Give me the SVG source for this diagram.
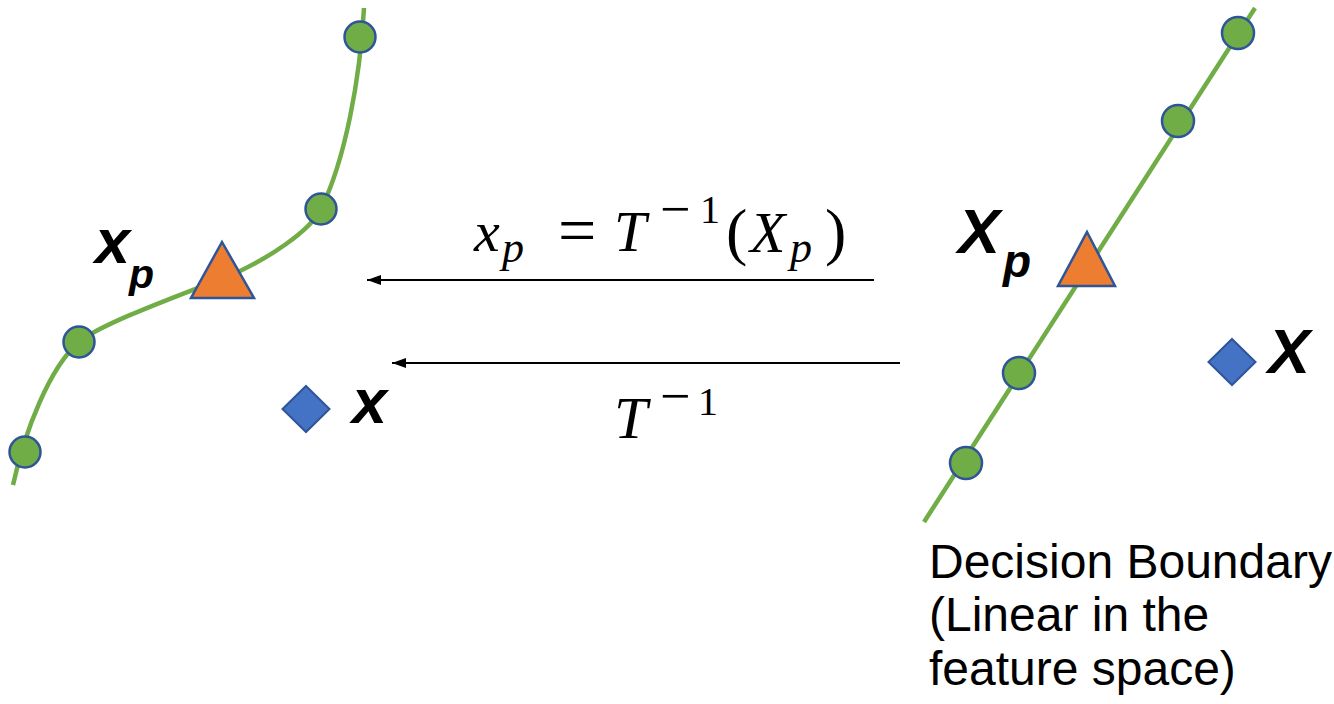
<svg xmlns="http://www.w3.org/2000/svg" width="1334" height="704" viewBox="0 0 1334 704">
  <defs>
    <marker id="arrow" markerUnits="userSpaceOnUse" markerWidth="16" markerHeight="12" refX="14" refY="5" orient="auto">
      <path d="M0,0 L14,5 L0,10 Z" fill="#000"/>
    </marker>
    <style>
      .curve { fill: none; stroke: #70AD47; stroke-width: 4.5; }
      .pt { fill: #70AD47; stroke: #2F5597; stroke-width: 2.5; }
      .tri { fill: #ED7D31; stroke: #2F5597; stroke-width: 2.5; stroke-linejoin: miter; }
      .dia { fill: #4472C4; stroke: #2F5597; stroke-width: 2; }
      .conn { stroke: #000; stroke-width: 2.2; fill: none; }
      .lbl { font-family: "Liberation Sans", Arial, sans-serif; font-weight: bold; font-style: italic; fill: #000; }
      .math { font-family: "Liberation Serif", "Times New Roman", serif; fill: #000; }
      .it { font-style: italic; }
      .note { font-family: "Liberation Sans", Arial, sans-serif; font-size: 48px; fill: #000; }
    </style>
  </defs>

  <g id="input-space">
    <path class="curve" d="M364,8 C360,80 345,160 321,209 C309,233 265,259 240,271 C215,283 105,320 79,342 C50,367 25,430 13,485"/>
    <circle class="pt" cx="360" cy="37" r="15.5"/>
    <circle class="pt" cx="321" cy="209" r="15.5"/>
    <circle class="pt" cx="79" cy="342" r="15.5"/>
    <circle class="pt" cx="25" cy="452" r="15.5"/>
  </g>

  <g id="node-xp">
    <polygon class="tri" points="222,242 254,298 191,298"/>
    <text class="lbl" x="95" y="263" font-size="63">x</text>
    <text class="lbl" x="129" y="288" font-size="41">p</text>
  </g>

  <g id="node-x">
    <polygon class="dia" points="306,386 329.5,409 306,432 282.5,409"/>
    <text class="lbl" x="352" y="423" font-size="63">x</text>
  </g>

  <g id="feature-space">
    <path class="curve" d="M1255,8 L924,522"/>
    <circle class="pt" cx="1238" cy="33" r="16"/>
    <circle class="pt" cx="1178" cy="121" r="16"/>
    <circle class="pt" cx="1019" cy="373" r="16"/>
    <circle class="pt" cx="966" cy="463" r="16"/>
  </g>

  <g id="node-Xp">
    <polygon class="tri" points="1087,232 1115,286 1058,286"/>
    <text class="lbl" x="958" y="253" font-size="63">X</text>
    <text class="lbl" x="1003" y="277" font-size="46">p</text>
  </g>

  <g id="node-X">
    <polygon class="dia" points="1232,339 1255.5,362 1232,385 1208.5,362"/>
    <text class="lbl" x="1268" y="373" font-size="63">X</text>
  </g>

  <g id="connectors">
    <line class="conn" x1="874" y1="280" x2="367" y2="280" marker-end="url(#arrow)"/>
    <line class="conn" x1="900" y1="363" x2="392" y2="363" marker-end="url(#arrow)"/>
  </g>

  <g id="label-top">
    <text class="math" font-size="58">
      <tspan class="it" x="474" y="251">x</tspan><tspan class="it" x="502" y="262" font-size="44">p</tspan><tspan x="558" y="253" font-size="68">=</tspan><tspan class="it" x="614" y="251">T</tspan><tspan x="660" y="227" font-size="54">−</tspan><tspan x="700" y="223" font-size="40">1</tspan><tspan x="726" y="253" font-size="64">(</tspan><tspan class="it" x="750" y="252">X</tspan><tspan class="it" x="790" y="262" font-size="44">p</tspan><tspan x="825" y="253" font-size="64">)</tspan>
    </text>
  </g>

  <g id="label-bottom">
    <text class="math" font-size="60">
      <tspan class="it" x="614" y="438">T</tspan><tspan x="660" y="414" font-size="54">−</tspan><tspan x="698" y="415" font-size="40">1</tspan>
    </text>
  </g>

  <g id="caption">
    <text class="note" x="929" y="578">Decision Boundary</text>
    <text class="note" x="929" y="631">(Linear in the</text>
    <text class="note" x="929" y="685">feature space)</text>
  </g>
</svg>
